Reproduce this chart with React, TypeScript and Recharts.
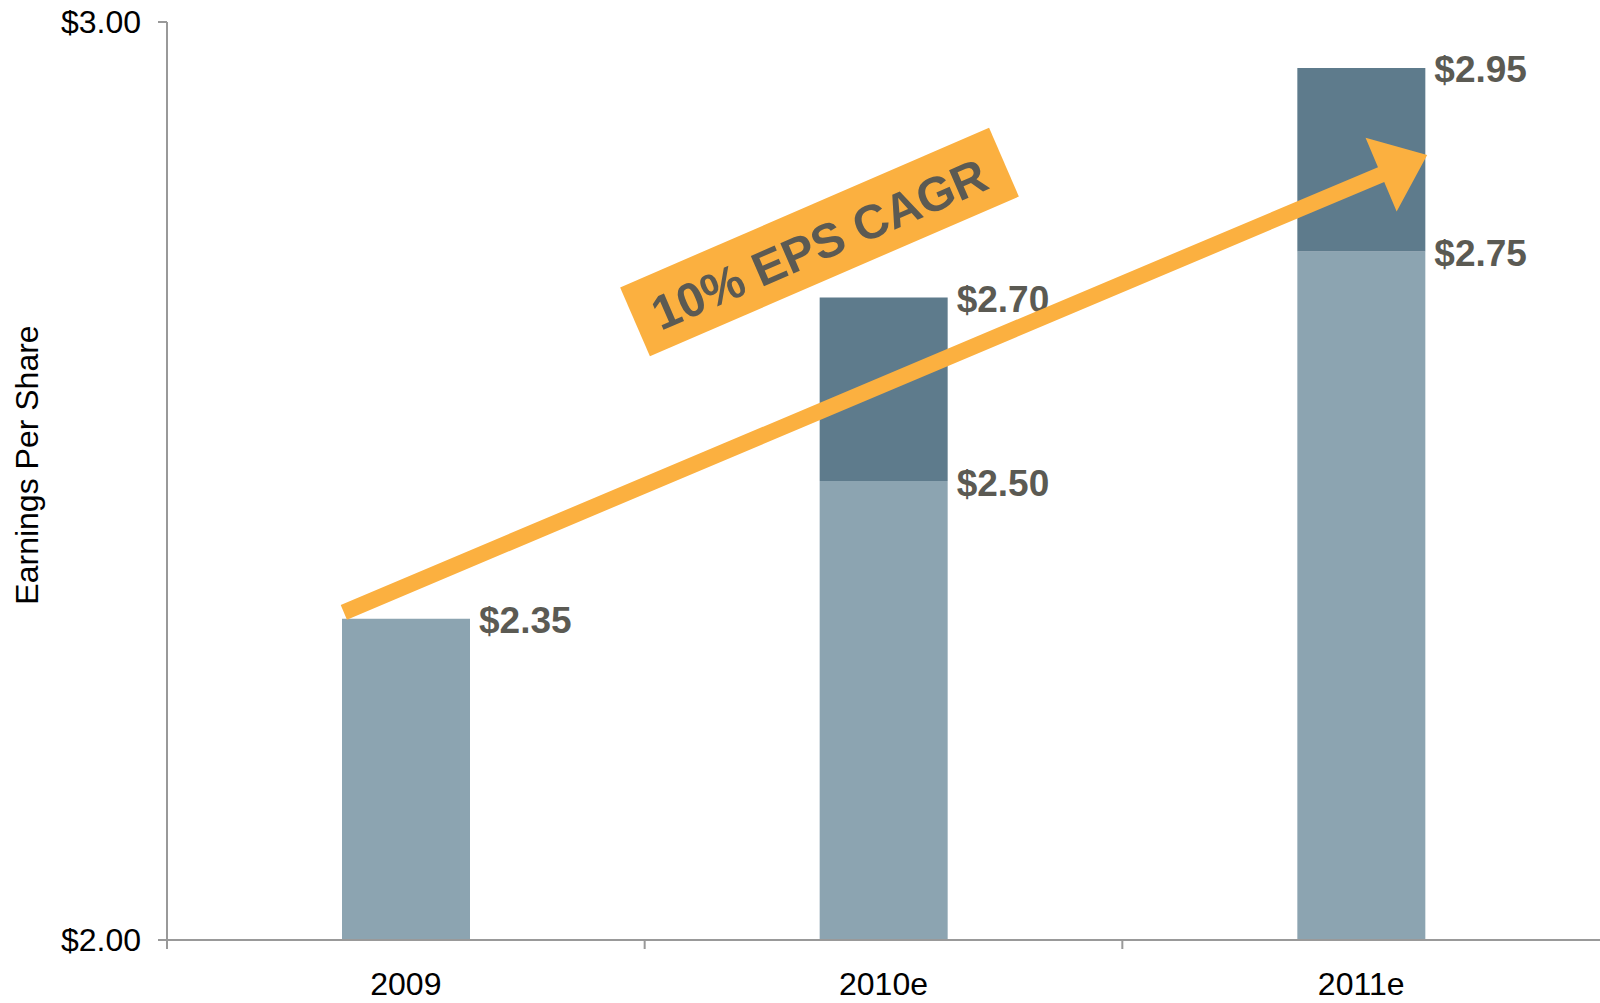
import React from 'react';
import { BarChart, Bar, XAxis, YAxis, LabelList, Label } from 'recharts';

const categories = ['2009', '2010e', '2011e'];
const baseEps = [2.35, 2.5, 2.75];
const highEps: (number | null)[] = [null, 2.7, 2.95];
const yTicks = [2, 3];
const yDomain: [number, number] = [2, 3];

const W = 1600;
const H = 1003;
const PLOT_LEFT = 167;
const PLOT_TOP = 22;
const X_AXIS_H = 63;
const PLOT_BOTTOM = H - X_AXIS_H;
const BAND = (W - PLOT_LEFT) / categories.length;

const FONT = '"Liberation Sans", Arial, sans-serif';
const LIGHT = '#8CA4B1';
const DARK = '#5E7B8C';
const ORANGE = '#FBB040';
const LABEL = '#5B5A53';
const AXIS = '#999999';

const data = categories.map((name, i) => ({
  name,
  base: baseEps[i],
  upside: highEps[i] == null ? null : +((highEps[i] as number) - baseEps[i]).toFixed(2),
  total: highEps[i],
}));

const yPx = (v: number) =>
  PLOT_BOTTOM - ((v - yDomain[0]) / (yDomain[1] - yDomain[0])) * (PLOT_BOTTOM - PLOT_TOP);

const ValueLabel = (props: any) => {
  const v = props.value;
  if (v == null) return null;
  const vb = props.viewBox ?? props;
  const x = Number(vb.x) + Number(vb.width) + 9;
  const y = Number(vb.y) + 2;
  return (
    <text x={x} y={y} fill={LABEL} fontSize={37} fontWeight="bold" fontFamily={FONT} dominantBaseline="central">
      ${Number(v).toFixed(2)}
    </text>
  );
};

const CategoryTick = (props: any) => {
  const { x, y, payload } = props;
  const edge = x - BAND / 2;
  return (
    <g>
      <line x1={edge} x2={edge} y1={y - 8} y2={y + 1} stroke={AXIS} strokeWidth={2} />
      <text x={x} y={y + 47} textAnchor="middle" fill="#000" fontSize={32} fontFamily={FONT}>
        {payload.value}
      </text>
    </g>
  );
};

const YTitle = (props: any) => {
  const vb = props.viewBox;
  const cy = vb.y + vb.height / 2 - 16;
  return (
    <text
      x={27}
      y={cy}
      transform={`rotate(-90, 27, ${cy})`}
      textAnchor="middle"
      dominantBaseline="central"
      fontSize={32}
      fontFamily={FONT}
      fill="#000"
    >
      Earnings Per Share
    </text>
  );
};

// arrow from the left edge of the first bar to the right edge of the last one
const arrowStart = { x: PLOT_LEFT + BAND / 2 - 62, y: yPx(2.357) };
const arrowTip = { x: PLOT_LEFT + BAND * 2.5 + 66, y: yPx(2.855) };

const arrowPoints = () => {
  const dx = arrowTip.x - arrowStart.x;
  const dy = arrowTip.y - arrowStart.y;
  const len = Math.hypot(dx, dy);
  const ux = dx / len, uy = dy / len;
  const nx = -uy, ny = ux;
  const headLen = 50, headHalf = 40, shaft = 8;
  const bx = arrowTip.x - ux * headLen, by = arrowTip.y - uy * headLen;
  const pts = [
    [arrowStart.x + nx * shaft, arrowStart.y + ny * shaft],
    [bx + nx * shaft, by + ny * shaft],
    [bx + nx * headHalf, by + ny * headHalf],
    [arrowTip.x, arrowTip.y],
    [bx - nx * headHalf, by - ny * headHalf],
    [bx - nx * shaft, by - ny * shaft],
    [arrowStart.x - nx * shaft, arrowStart.y - ny * shaft],
  ];
  return pts.map((p) => p.join(',')).join(' ');
};

export default function App() {
  return (
    <div style={{ position: 'absolute', left: 0, top: 0, width: W, height: H, background: '#fff' }}>
      <BarChart width={W} height={H} data={data} margin={{ top: PLOT_TOP, right: 0, bottom: 0, left: 0 }}>
        <XAxis
          dataKey="name"
          height={X_AXIS_H}
          interval={0}
          axisLine={{ stroke: AXIS, strokeWidth: 2 }}
          tickLine={false}
          tickSize={8}
          tickMargin={0}
          tick={<CategoryTick />}
        />
        <YAxis
          type="number"
          domain={yDomain}
          ticks={yTicks}
          allowDataOverflow
          width={PLOT_LEFT}
          axisLine={{ stroke: AXIS, strokeWidth: 2 }}
          tickLine={{ stroke: AXIS, strokeWidth: 2 }}
          tickSize={9}
          tickMargin={17}
          tick={{ fill: '#000', fontSize: 32, fontFamily: FONT }}
          tickFormatter={(v: number) => `$${v.toFixed(2)}`}
        >
          <Label content={<YTitle />} />
        </YAxis>
        <Bar dataKey="base" stackId="eps" fill={LIGHT} barSize={128} isAnimationActive={false}>
          <LabelList dataKey="base" content={<ValueLabel />} />
        </Bar>
        <Bar dataKey="upside" stackId="eps" fill={DARK} barSize={128} isAnimationActive={false}>
          <LabelList dataKey="total" content={<ValueLabel />} />
        </Bar>
      </BarChart>
      <svg width={W} height={H} style={{ position: 'absolute', left: 0, top: 0, pointerEvents: 'none' }}>
        <polygon points={arrowPoints()} fill={ORANGE} />
        <g transform="translate(819.5,242) rotate(-23.4)">
          <rect x={-201} y={-37.5} width={402} height={75} fill={ORANGE} />
          <text x={-1} y={2} textAnchor="middle" dominantBaseline="central" fontSize={48} fontWeight="bold" fontFamily={FONT} fill={LABEL}>
            10% EPS CAGR
          </text>
        </g>
      </svg>
    </div>
  );
}
